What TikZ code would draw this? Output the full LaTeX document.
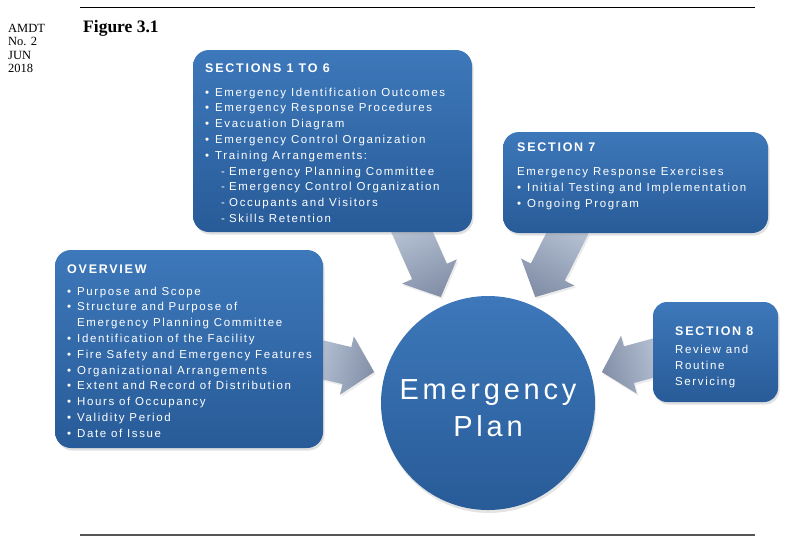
\documentclass[tikz,border=0pt]{standalone}
\usepackage{fontspec}
\setmainfont{Liberation Serif}
\newfontfamily\boxfont[LetterSpace=14]{Liberation Sans}
\newfontfamily\planfont[LetterSpace=13]{Liberation Sans}
\usetikzlibrary{calc,shadows}
\pgfdeclarelayer{back}
\pgfsetlayers{back,main}
\definecolor{boxtop}{HTML}{3D78BA}
\definecolor{boxbot}{HTML}{285B98}
\definecolor{arrlight}{HTML}{B8C3D5}
\definecolor{arrdark}{HTML}{8390A8}
\definecolor{rulegray}{HTML}{555555}
\newcommand\bul{\makebox[10pt][l]{•}}
\newcommand\subit{\hspace{16pt}\makebox[8pt][l]{-}}
\newcommand\hang{\hspace{10pt}}
\newcommand\blkarrow[4]{%
  \coordinate (#4h) at ($(#2)!28pt!(#1)$);
  \shade[arrowfill, shading angle=#3]
    ($(#1)!19pt!90:(#2)$) -- ($(#4h)!19pt!90:(#2)$) -- ($(#4h)!30pt!90:(#2)$)
    -- (#2) -- ($(#4h)!30pt!-90:(#2)$) -- ($(#4h)!19pt!-90:(#2)$)
    -- ($(#1)!19pt!-90:(#2)$) -- cycle;}
\begin{document}
\begin{tikzpicture}[x=1pt,y=-1pt,
  panel/.style={rounded corners=16pt, top color=boxtop, bottom color=boxbot,
    draw=none, inner sep=0,
    drop shadow={shadow xshift=1.5pt, shadow yshift=-2.5pt, opacity=0.35, fill=black!35}},
  hd/.style={anchor=base west, inner sep=0, text=white,
    font=\boxfont\bfseries\fontsize{12.5}{14}\selectfont},
  lst/.style={anchor=base west, inner sep=0, text=white,
    font=\boxfont\fontsize{11.5}{#1}\selectfont},
  lst/.default=15.8,
  arrowfill/.style={top color=arrlight, bottom color=arrdark,
    drop shadow={shadow xshift=1.5pt, shadow yshift=-2pt, opacity=0.25, fill=black!30}},
  margintext/.style={anchor=base west, inner sep=0,
    font=\fontsize{12.5}{13.5}\selectfont}
]
\useasboundingbox (0,0) rectangle (794,539);

% rules
\draw[line width=1pt, black] (80,7) -- (755,7);
\draw[line width=1.6pt, rulegray] (80,535) -- (755,535);

% margin notes and title
\node[margintext] (amdt) at (8,32.3)
  {\begin{tabular}[t]{@{}l@{}}AMDT\\No. 2\\JUN\\2018\end{tabular}};
\node[anchor=base west, inner sep=0, font=\bfseries\fontsize{17.5}{20}\selectfont]
  (fig) at (83,32) {Figure 3.1};

% panels
\node[panel, minimum width=279pt, minimum height=182pt] (s16) at (332.5,141) {};
\node[hd] (s16h) at (205,72) {SECTIONS 1 TO 6};
\node[lst] (s16l) at (205,96) {\begin{tabular}[t]{@{}l@{}}
\bul Emergency Identification Outcomes\\
\bul Emergency Response Procedures\\
\bul Evacuation Diagram\\
\bul Emergency Control Organization\\
\bul Training Arrangements:\\
\subit Emergency Planning Committee\\
\subit Emergency Control Organization\\
\subit Occupants and Visitors\\
\subit Skills Retention
\end{tabular}};

\node[panel, minimum width=265pt, minimum height=101pt] (s7) at (635.5,182.5) {};
\node[hd] (s7h) at (517,151.5) {SECTION 7};
\node[lst=16] (s7l) at (517,175) {\begin{tabular}[t]{@{}l@{}}
Emergency Response Exercises\\
\bul Initial Testing and Implementation\\
\bul Ongoing Program
\end{tabular}};

\node[panel, minimum width=268pt, minimum height=198pt] (ov) at (189,349) {};
\node[hd] (ovh) at (67,273) {OVERVIEW};
\node[lst] (ovl) at (67,295) {\begin{tabular}[t]{@{}l@{}}
\bul Purpose and Scope\\
\bul Structure and Purpose of\\
\hang Emergency Planning Committee\\
\bul Identification of the Facility\\
\bul Fire Safety and Emergency Features\\
\bul Organizational Arrangements\\
\bul Extent and Record of Distribution\\
\bul Hours of Occupancy\\
\bul Validity Period\\
\bul Date of Issue
\end{tabular}};

\node[panel, rounded corners=14pt, minimum width=125pt, minimum height=100pt] (s8) at (715.5,352) {};
\node[hd] (s8h) at (675,335) {SECTION 8};
\node[lst=16] (s8l) at (675,353) {\begin{tabular}[t]{@{}l@{}}
Review and\\
Routine\\
Servicing
\end{tabular}};

% central circle
\node[circle, minimum size=214pt, inner sep=0, top color=boxtop, bottom color=boxbot,
  drop shadow={shadow xshift=1pt, shadow yshift=-3pt, opacity=0.3, fill=black!35}]
  (plan) at (488,403) {};
\node[text=white, align=center, inner sep=0,
  font=\planfont\fontsize{29}{37}\selectfont] (plantext) at (488,408) {Emergency\\Plan};

% arrows
\coordinate (a1t) at ($(s16.south)+(76,-8)$);
\coordinate (a1p) at ($(plan.center)+(-114:116)$);
\coordinate (a2t) at ($(s7.south)+(-64,-8)$);
\coordinate (a2p) at ($(plan.center)+(-66:116)$);
\coordinate (a3t) at ($(ov.east)+(-8,9)$);
\coordinate (a3p) at ($(plan.center)+(195.2:118)$);
\coordinate (a4t) at ($(s8.west)+(8,4)$);
\coordinate (a4p) at ($(plan.center)+(-15.2:118)$);
\begin{pgfonlayer}{back}
\blkarrow{a1t}{a1p}{24}{a1}
\blkarrow{a2t}{a2p}{-27}{a2}
\blkarrow{a3t}{a3p}{77}{a3}
\blkarrow{a4t}{a4p}{-75}{a4}
\end{pgfonlayer}
\end{tikzpicture}
\end{document}
